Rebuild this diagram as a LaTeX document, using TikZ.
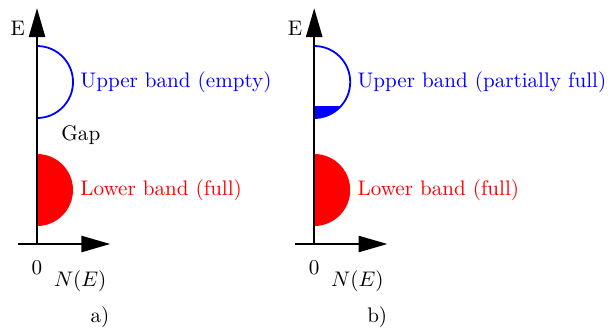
\documentclass[tikz,border=0pt]{standalone}
\usepackage{tikz}
\usetikzlibrary{arrows.meta,positioning}
\tikzset{
  axis/.style  ={-{Triangle[length=0.48cm,width=0.27cm]}, line width=0.8pt},
  band/.style  ={line width=0.85pt},
  lbl/.style   ={anchor=west},
}

\begin{document}
\begin{tikzpicture}
\useasboundingbox (-0.617,-1.483) rectangle (9.65,4.067);

% --- a) empty upper band --------------------------------------------
\begin{scope}
  \draw[blue,band] (0,2.1) arc (-90:90:0.6);
  \fill[red] (0,0.3) arc (-90:90:0.6) -- cycle;
  \node[lbl,blue] (upA)  at (0.6,2.7) {Upper band (empty)};
  \node[lbl,red]  (lowA) at (0.6,0.9) {Lower band (full)};
  \node           (gap)  at (0.73,1.82) {Gap};

  \coordinate (oA) at (0,0);
  \coordinate (lA) at (-0.32,0);
  \coordinate (xA) at (1.22,0);
  \coordinate (yA) at (0,3.93);
  \draw[axis] (lA) -- (xA);
  \draw[axis] (oA) -- (yA);
  \node (eA)   at (-0.32,3.6) {E};
  \node (zA)   at (0,-0.4)    {0};
  \node (nA)   at (0.72,-0.62) {$N(E)$};
  \node (capA) at (1.05,-1.22) {a)};
\end{scope}

% --- b) partially filled upper band ---------------------------------
\begin{scope}[xshift=4.62cm]
  \fill[blue] (0,2.1) arc (-90:-41.8:0.6) -- (0,2.3) -- cycle;
  \draw[blue,band] (0,2.1) arc (-90:90:0.6);
  \fill[red] (0,0.3) arc (-90:90:0.6) -- cycle;
  \node[lbl,blue] (upB)  at (0.6,2.7) {Upper band (partially full)};
  \node[lbl,red]  (lowB) at (0.6,0.9) {Lower band (full)};

  \coordinate (oB) at (0,0);
  \coordinate (lB) at (-0.32,0);
  \coordinate (xB) at (1.22,0);
  \coordinate (yB) at (0,3.93);
  \draw[axis] (lB) -- (xB);
  \draw[axis] (oB) -- (yB);
  \node (eB)   at (-0.32,3.6) {E};
  \node (zB)   at (0,-0.4)    {0};
  \node (nB)   at (0.72,-0.62) {$N(E)$};
  \node (capB) at (1.05,-1.22) {b)};
\end{scope}
\end{tikzpicture}
\end{document}
